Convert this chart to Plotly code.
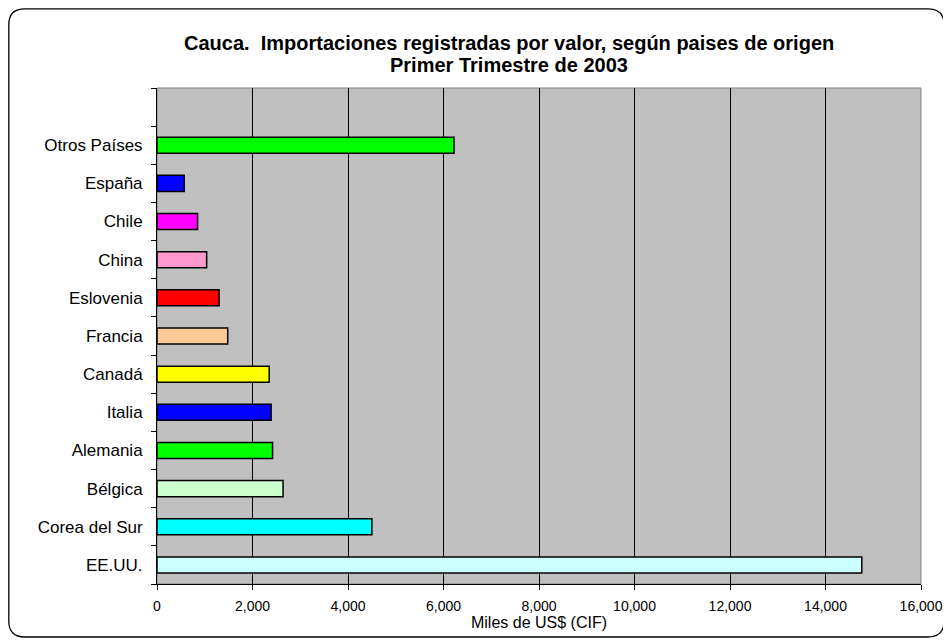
import plotly.graph_objects as go

# Data (bottom to top)
categories = ["EE.UU.", "Corea del Sur", "Bélgica", "Alemania", "Italia", "Canadá",
              "Francia", "Eslovenia", "China", "Chile", "España", "Otros Países"]
values = [14760, 4500, 2640, 2420, 2390, 2350, 1480, 1300, 1040, 850, 570, 6220]
colors = ["#CCFFFF", "#00FFFF", "#CCFFCC", "#00FF00", "#0000FF", "#FFFF00",
          "#FFCC99", "#FF0000", "#FF99CC", "#FF00FF", "#0000FF", "#00FF00"]
x_ticks = [0, 2000, 4000, 6000, 8000, 10000, 12000, 14000, 16000]
title_line1 = "Cauca.  Importaciones registradas por valor, según paises de origen"
title_line2 = "Primer Trimestre de 2003"
x_title = "Miles de US$ (CIF)"

# page offset (browser body margin)
OFF = 8
W, H = 951 - OFF, 640 - OFF
L, R, T, B = 157 - OFF, 921 - OFF, 88 - OFF, 584 - OFF
FONT = "Liberation Sans, Arial, sans-serif"

def px(x):
    return (x - L) / (R - L)

def py(y):
    return (B - y) / (B - T)

fig = go.Figure()
fig.add_trace(go.Bar(
    y=categories, x=values, orientation="h", width=0.42,
    marker=dict(color=colors, line=dict(color="#000000", width=1.5)),
    hoverinfo="x+y",
))

# rounded outer border (figure pixel coords)
x0, x1, y0, y1 = px(0.8), px(944 - OFF), py(637 - OFF), py(0.8)
rx, ry = 16 / (R - L), 16 / (B - T)
path = (f"M {x0+rx},{y1} L {x1-rx},{y1} Q {x1},{y1} {x1},{y1-ry} "
        f"L {x1},{y0+ry} Q {x1},{y0} {x1-rx},{y0} L {x0+rx},{y0} "
        f"Q {x0},{y0} {x0},{y0+ry} L {x0},{y1-ry} Q {x0},{y1} {x0+rx},{y1} Z")
shapes = [
    dict(type="path", xref="paper", yref="paper", path=path,
         line=dict(color="#000000", width=1.3), layer="above"),
    dict(type="rect", xref="paper", yref="paper", x0=0, x1=1, y0=0, y1=1,
         line=dict(color="#808080", width=1), layer="below"),
]

annotations = [
    dict(text=f"<b>{title_line1}</b>", x=px(509 - OFF), y=py(43 - OFF)),
    dict(text=f"<b>{title_line2}</b>", x=px(509 - OFF), y=py(65 - OFF)),
]
for a in annotations:
    a.update(xref="paper", yref="paper", showarrow=False,
             font=dict(size=20, family=FONT, color="#000000"),
             xanchor="center", yanchor="middle")

fig.update_layout(
    width=W, height=H,
    margin=dict(l=L, r=W - R, t=T, b=H - B, autoexpand=False),
    paper_bgcolor="#FFFFFF", plot_bgcolor="#C0C0C0",
    font=dict(family=FONT, color="#000000"),
    showlegend=False,
    shapes=shapes,
    annotations=annotations,
    xaxis=dict(
        range=[0, 16000], tickvals=x_ticks, tickformat=",d",
        showgrid=True, gridcolor="#000000", gridwidth=1,
        showline=True, linecolor="#000000", linewidth=1,
        ticks="outside", ticklen=5, tickcolor="#000000",
        zeroline=False, tickfont=dict(size=14), ticklabelstandoff=4,
        title=dict(text=x_title, font=dict(size=16), standoff=4),
        automargin=False,
    ),
    yaxis=dict(
        type="category", categoryorder="array", categoryarray=categories + [" "],
        range=[-0.5, 12.5], tickson="boundaries",
        showgrid=False, showline=True, linecolor="#000000", linewidth=1,
        ticks="outside", ticklen=5, tickcolor="#000000",
        tickfont=dict(size=17), ticklabelstandoff=10,
        automargin=False,
    ),
)

fig.write_html("out.html")
